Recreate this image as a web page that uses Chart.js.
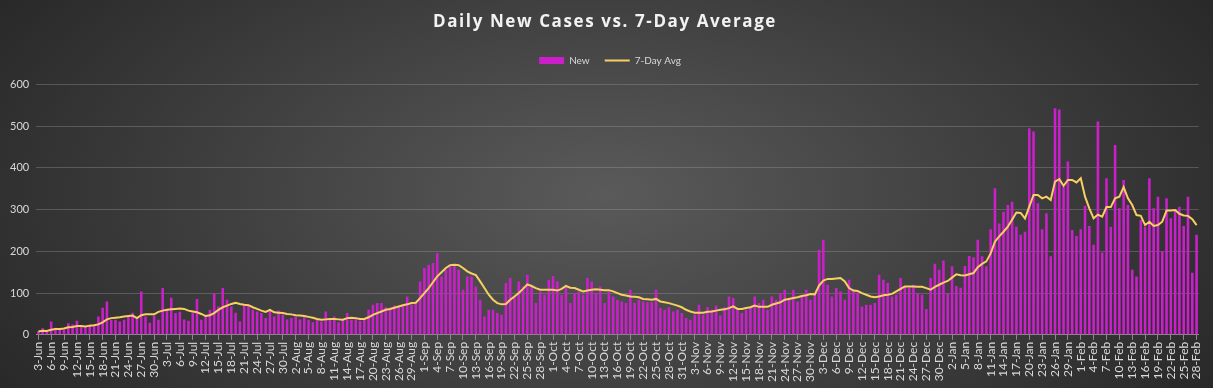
<!DOCTYPE html>
<html>
<head>
<meta charset="utf-8">
<script src="https://cdn.jsdelivr.net/npm/chart.js@4/dist/chart.umd.min.js"></script>
<style>
  html, body { margin: 0; padding: 0; background: #2a2a2a; }
  #wrap { width: 1213px; height: 388px; position: relative; }
</style>
</head>
<body>
<div id="wrap"><canvas id="cchart"></canvas></div>
<script>
// daily new cases (3-Jun .. 28-Feb)
const newJun = [8,16,8,32,17,14,12,28,25,34,20,20,24,24,44,65,80,36,36,32,36,44,53,40,104,44,29,46];
const newJul = [36,112,60,89,52,55,37,34,52,86,36,48,60,100,68,112,84,68,53,32,72,70,60,56,52,40,60,44,58,48,37];
const newAug = [40,44,37,42,36,30,38,32,56,36,44,30,36,52,36,40,34,38,60,72,76,76,66,65,70,68,72,92,72,76,128];
const newSep = [160,168,172,196,140,156,164,168,156,108,140,140,116,84,44,60,60,52,48,124,136,92,128,116,144,116,76,104,96,132];
const newOct = [141,128,96,116,76,100,104,96,136,128,100,116,76,104,92,84,80,76,108,76,84,80,78,78,108,64,60,66,56,60,52];
const newNov = [40,36,48,72,48,66,60,70,46,66,92,88,60,52,60,64,92,76,84,60,92,84,100,108,84,108,80,95,108,84];
const newDec = [96,204,228,120,92,112,104,84,132,108,100,68,72,72,76,144,132,124,92,96,136,116,112,120,100,96,62,136,170,156,178];
const newJan = [100,164,117,113,165,189,186,228,188,164,253,351,267,295,311,319,259,240,247,495,487,315,253,291,188,543,540,355,415,251,237];
const newFeb = [253,309,261,216,511,197,375,259,455,303,371,311,156,140,275,259,375,303,331,200,327,279,299,307,261,331,149,240];

// 7-day average line
const avgJun = [8,10,9,12,14,14,15,18,19,21,21,20,22,23,25,30,37,40,41,42,44,45,46,40,47,49,49,49];
const avgJul = [55,58,60,61,62,63,62,58,56,54,50,45,47,52,60,66,70,74,77,74,72,71,66,62,58,55,60,54,53,52,50];
const avgAug = [49,47,46,45,43,41,38,36,37,38,38,37,36,40,41,40,38,38,42,48,52,56,60,62,65,68,71,73,76,77,88];
const avgSep = [100,112,126,140,150,160,167,168,167,160,152,147,143,128,112,96,84,76,73,74,84,92,100,110,121,117,112,108,108,108];
const avgOct = [108,106,110,117,113,112,108,104,106,108,109,108,107,107,104,100,96,94,92,91,90,86,85,84,86,80,78,76,73,70,66];
const avgNov = [60,56,53,53,53,55,56,58,60,61,64,68,62,62,64,66,70,67,67,67,72,75,78,84,86,88,90,93,95,98];
const avgDec = [97,118,130,134,134,135,136,128,112,106,105,100,96,92,90,92,95,96,98,104,110,116,116,116,115,115,112,108,115,120,125];
const avgJan = [129,137,145,143,142,145,148,162,170,176,195,223,236,247,259,276,293,292,279,307,335,335,327,331,323,367,373,357,371,371,365];
const avgFeb = [375,331,303,279,288,283,306,306,327,331,354,327,311,287,285,263,271,261,263,271,298,298,299,290,286,285,277,263];

const monthNames = ['Jan','Feb','Mar','Apr','May','Jun','Jul','Aug','Sep','Oct','Nov','Dec'];
const yTicks = [0,100,200,300,400,500,600];

const newCases = [].concat(newJun,newJul,newAug,newSep,newOct,newNov,newDec,newJan,newFeb);
const avgCases = [].concat(avgJun,avgJul,avgAug,avgSep,avgOct,avgNov,avgDec,avgJan,avgFeb);

const dayLabels = [];
for (let i = 0; i < newCases.length; i++) {
  const d = new Date(2020, 5, 3 + i);
  dayLabels.push(d.getDate() + '-' + monthNames[d.getMonth()]);
}

// dark radial background like the excel chart style
const bgPlugin = {
  id: 'bg',
  beforeDraw(chart) {
    const c = chart.ctx, w = chart.width, h = chart.height;
    c.save();
    c.translate(w / 2, h * 0.5);
    c.scale(1, h / w * 1.6);
    const g = c.createRadialGradient(0, 0, 0, 0, 0, w * 0.62);
    g.addColorStop(0, '#5a5a5a');
    g.addColorStop(1, '#262626');
    c.fillStyle = g;
    c.fillRect(-w, -w * 2, w * 2, w * 4);
    c.restore();
  }
};

// small tweaks: gap under legend, spaced-out title, legend nudged right
const boxTweaks = {
  id: 'boxTweaks',
  beforeLayout(chart) {
    const lg = chart.legend;
    if (lg && !lg._tweaked) {
      const fit = lg.fit.bind(lg);
      lg.fit = function () { fit(); this.height += 9; };
      const draw = lg.draw.bind(lg);
      lg.draw = function () { this.ctx.save(); this.ctx.translate(8, 0); draw(); this.ctx.restore(); };
      lg._tweaked = true;
    }
    const tb = chart.titleBlock;
    if (tb && !tb._tweaked) {
      const draw = tb.draw.bind(tb);
      tb.draw = function () { this.ctx.save(); this.ctx.letterSpacing = '1.6px'; this.ctx.translate(3, 0); draw(); this.ctx.restore(); };
      tb._tweaked = true;
    }
  }
};

const fontFam = 'Lato, "Open Sans", sans-serif';

const chart = new Chart(document.getElementById('cchart').getContext('2d'), {
  type: 'bar',
  data: {
    labels: dayLabels,
    datasets: [{
      label: 'New',
      data: newCases,
      backgroundColor: '#cc1fcc',
      borderWidth: 0,
      barPercentage: 0.6,
      categoryPercentage: 1,
      pointStyle: 'rect',
      order: 1
    }, {
      type: 'line',
      label: '7-Day Avg',
      data: avgCases,
      borderColor: '#f7cf62',
      backgroundColor: '#f7cf62',
      borderWidth: 2,
      pointRadius: 0,
      tension: 0,
      pointStyle: 'line',
      order: 0
    }]
  },
  options: {
    responsive: true,
    maintainAspectRatio: false,
    animation: false,
    layout: { padding: { left: 3, right: 12, top: 0, bottom: 4 } },
    plugins: {
      title: {
        display: true,
        text: 'Daily New Cases vs. 7-Day Average',
        color: '#f2f2f2',
        font: { family: '"Open Sans", Lato, sans-serif', size: 17, weight: 'bold' },
        padding: { top: 12, bottom: 8 }
      },
      legend: {
        labels: {
          color: '#d9d9d9',
          font: { family: fontFam, size: 10 },
          usePointStyle: true,
          pointStyleWidth: 25,
          boxHeight: 7,
          padding: 15,
          sort: (a, b) => a.datasetIndex - b.datasetIndex
        }
      },
      tooltip: { enabled: false }
    },
    scales: {
      x: {
        grid: {
          offset: false,
          drawOnChartArea: false,
          tickLength: 5,
          color: ctx => (ctx.index % 3 === 0 ? '#8a8a8a' : 'rgba(0,0,0,0)')
        },
        border: { color: '#8a8a8a' },
        ticks: {
          autoSkip: false,
          maxRotation: 90,
          minRotation: 90,
          color: '#d9d9d9',
          padding: 2,
          font: { family: fontFam, size: 12 },
          callback: (v, i) => (i % 3 === 0 ? dayLabels[i] : '')
        }
      },
      y: {
        min: 0,
        max: 600,
        afterBuildTicks: axis => { axis.ticks = yTicks.map(v => ({ value: v })); },
        grid: { color: 'rgba(160,160,160,0.35)', drawTicks: false },
        border: { display: false },
        ticks: {
          color: '#d9d9d9',
          padding: 7,
          font: { family: fontFam, size: 11 }
        }
      }
    }
  },
  plugins: [bgPlugin, boxTweaks]
});
</script>
</body>
</html>
